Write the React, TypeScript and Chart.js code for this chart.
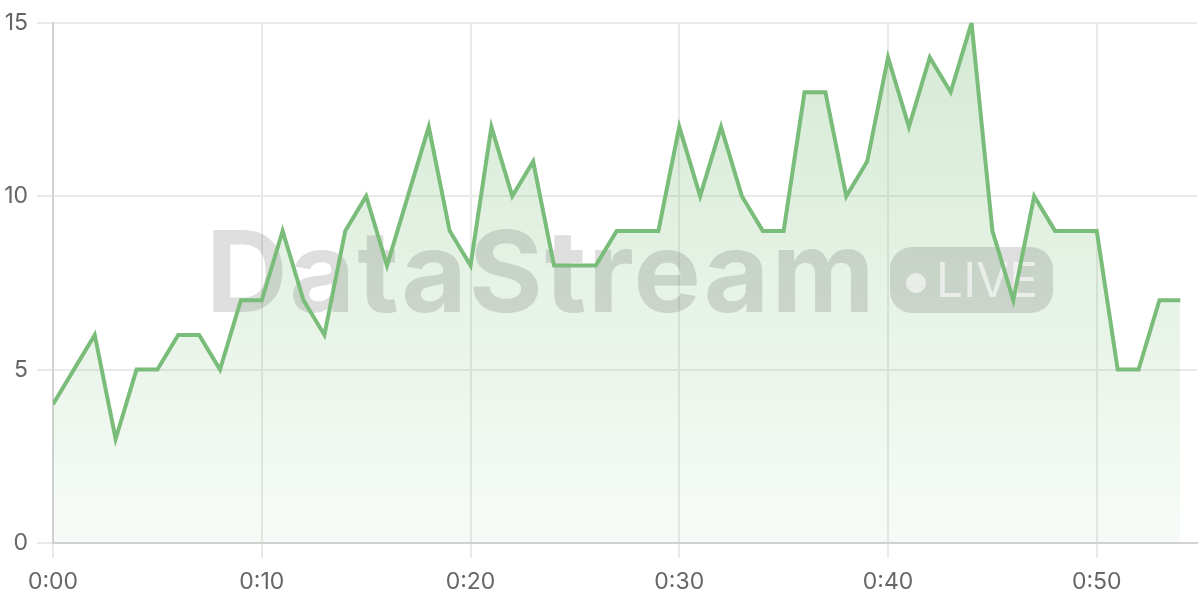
import React, { useRef, useEffect } from 'react'
import { Chart, registerables } from 'chart.js'

Chart.register(...registerables)

// one reading per minute, 0:00 .. 0:54
const minutes = [
	0, 1, 2, 3, 4, 5, 6, 7, 8, 9, 10, 11, 12, 13, 14, 15, 16, 17, 18, 19, 20, 21, 22, 23, 24, 25, 26, 27,
	28, 29, 30, 31, 32, 33, 34, 35, 36, 37, 38, 39, 40, 41, 42, 43, 44, 45, 46, 47, 48, 49, 50, 51, 52, 53, 54,
]
const values = [
	4, 5, 6, 3, 5, 5, 6, 6, 5, 7, 7, 9, 7, 6, 9, 10, 8, 10, 12, 9, 8, 12, 10, 11, 8, 8, 8, 9, 9, 9, 12, 10, 12,
	10, 9, 9, 13, 13, 10, 11, 14, 12, 14, 13, 15, 9, 7, 10, 9, 9, 9, 5, 5, 7, 7,
]
const xTicks = [0, 10, 20, 30, 40, 50]
const yTicks = [0, 5, 10, 15]

const fmtMinute = (v: number) => `0:${String(v).padStart(2, '0')}`

// "DataStream LIVE" watermark, drawn after the fill and under the line
const watermark = {
	id: 'watermark',
	beforeDatasetsDraw(chart: any) {
		const { ctx } = chart
		ctx.save()
		ctx.fillStyle = 'rgba(80,80,80,0.19)'
		ctx.font = '700 113px Inter'
		ctx.textBaseline = 'alphabetic'
		ctx.textAlign = 'left'
		ctx.letterSpacing = '2px'
		ctx.fillText('DataStream', 206, 312)
		ctx.letterSpacing = '0px'

		// LIVE pill
		const x = 890, y = 247, w = 163, h = 66, r = 22
		ctx.beginPath()
		ctx.roundRect(x, y, w, h, r)
		ctx.fill()
		ctx.fillStyle = 'rgba(255,255,255,0.6)'
		ctx.beginPath()
		ctx.arc(916, 283, 10, 0, Math.PI * 2)
		ctx.fill()
		ctx.font = '400 48px Inter'
		ctx.fillText('LIVE', 936, 297)
		ctx.restore()
	},
}

const App: React.FC = () => {
	const chartRef = useRef<HTMLCanvasElement | null>(null)

	useEffect(() => {
		if (!chartRef.current) return
		const ctx = chartRef.current.getContext('2d')
		if (!ctx) return

		const chart = new Chart(ctx, {
			type: 'line',
			data: {
				datasets: [
					{
						data: minutes.map((m, i) => ({ x: m, y: values[i] })),
						borderColor: 'rgb(122,189,122)',
						borderWidth: 4,
						pointRadius: 0,
						tension: 0,
						fill: 'origin',
						backgroundColor: (c: any) => {
							const area = c.chart.chartArea
							if (!area) return 'rgba(122,189,122,0.2)'
							const g = c.chart.ctx.createLinearGradient(0, area.top, 0, area.bottom)
							g.addColorStop(0, 'rgba(122,189,122,0.32)')
							g.addColorStop(1, 'rgba(122,189,122,0.06)')
							return g
						},
					},
				],
			},
			options: {
				animation: false,
				responsive: true,
				maintainAspectRatio: false,
				layout: { padding: { top: 20, right: 3, left: 0, bottom: 0 } },
				plugins: {
					legend: { display: false },
					tooltip: { enabled: false },
					filler: { drawTime: 'beforeDatasetsDraw' },
				},
				scales: {
					x: {
						type: 'linear',
						min: 0,
						max: 54.8,
						afterBuildTicks: (scale: any) => {
							scale.ticks = xTicks.map(v => ({ value: v }))
						},
						afterFit: (scale: any) => {
							scale.height = 57
						},
						ticks: {
							callback: (v: any) => fmtMinute(Number(v)),
							font: { family: 'Inter', size: 23 },
							color: '#666',
							padding: 10,
							maxRotation: 0,
						},
						grid: { color: '#e9e9e9', lineWidth: 2, tickLength: 15 },
						border: { color: '#d2d2d2', width: 2 },
					},
					y: {
						min: 0,
						max: 15,
						afterBuildTicks: (scale: any) => {
							scale.ticks = yTicks.map(v => ({ value: v }))
						},
						afterFit: (scale: any) => {
							scale.width = 53
						},
						ticks: {
							font: { family: 'Inter', size: 23 },
							color: '#666',
							padding: 9,
						},
						grid: { color: '#e9e9e9', lineWidth: 2, tickLength: 16 },
						border: { color: '#d2d2d2', width: 2 },
					},
				},
			},
			plugins: [watermark],
		})

		return () => {
			chart.destroy()
		}
	}, [])

	return (
		<div style={{ position: 'fixed', left: 0, top: 0, width: 1200, height: 600, background: '#fff' }}>
			<canvas ref={chartRef} />
		</div>
	)
}

export default App
